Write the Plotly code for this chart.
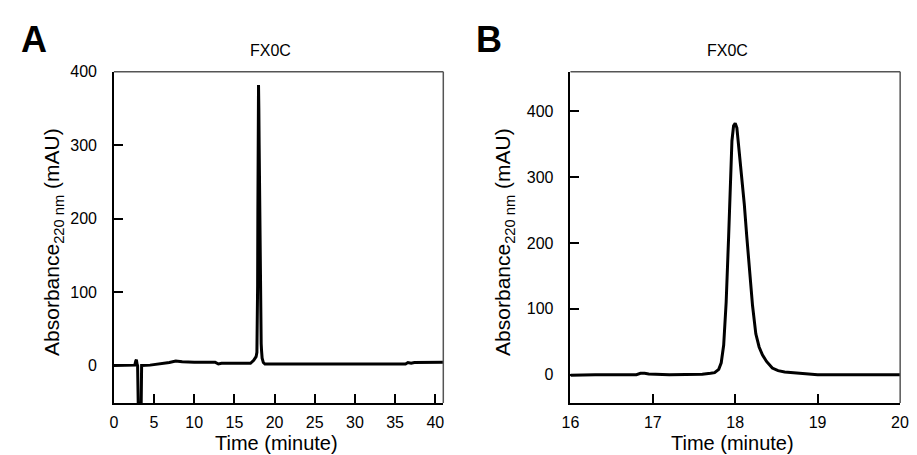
import plotly.graph_objects as go

# Panel A: full chromatogram
time_a = [0, 1, 2, 2.6, 2.72, 2.8, 2.88, 2.95, 3.25, 3.32, 3.45, 4.5, 5.7, 6.9, 7.7, 8.5, 10,
          12.6, 13.0, 13.4, 15, 17.0, 17.4, 17.6, 17.7, 17.8, 17.85, 17.89, 17.92, 17.94, 17.96,
          18.0, 18.04, 18.08, 18.11, 18.14, 18.17, 18.21, 18.25, 18.29, 18.33, 18.38, 18.45,
          18.6, 18.8, 20, 25, 30, 36.3, 36.6, 37.0, 37.4, 39, 41]
abs_a = [0, 0, 0, 0.5, 6, 8, 2, 0, -200, -200, 0, 0.5, 2, 4, 6, 5, 4.5,
         4.5, 2, 3, 3, 3, 7, 10, 12, 18, 45, 110, 210, 300, 355,
         382, 350, 300, 259, 210, 160, 105, 62, 42, 30, 20, 10,
         4, 2, 2, 2, 2, 2, 4, 3, 4, 4, 4.5]

# Panel B: zoom on the main peak
time_b = [16.0, 16.3, 16.8, 16.85, 16.9, 16.95, 17.2, 17.6, 17.7, 17.75, 17.8, 17.83, 17.86,
          17.89, 17.92, 17.94, 17.96, 17.98, 18.0, 18.02, 18.04, 18.08, 18.11, 18.14, 18.17,
          18.21, 18.25, 18.29, 18.33, 18.38, 18.45, 18.52, 18.6, 18.8, 18.85, 19.0, 19.5, 20.0]
abs_b = [-1, 0, 0, 2, 2, 1, 0, 0.5, 2, 3, 8, 18, 45,
         110, 210, 300, 355, 378, 382, 375, 350, 300, 259, 210, 160,
         105, 62, 42, 30, 20, 10, 6, 4, 2, 0.5, 0, 0, 0]

xticks_a = [0, 5, 10, 15, 20, 25, 30, 35, 40]
yticks_a = [0, 100, 200, 300, 400]
xticks_b = [16, 17, 18, 19, 20]
yticks_b = [0, 100, 200, 300, 400]

FONT = "Liberation Sans, Arial, sans-serif"

fig = go.Figure()
fig.add_trace(go.Scatter(x=time_a, y=abs_a, mode="lines", line=dict(color="black", width=3),
                         xaxis="x", yaxis="y", showlegend=False))
fig.add_trace(go.Scatter(x=time_b, y=abs_b, mode="lines", line=dict(color="black", width=3),
                         xaxis="x2", yaxis="y2", showlegend=False))

ax_common = dict(showgrid=False, zeroline=False, showline=True, linecolor="black", linewidth=1.5,
                 ticks="inside", ticklen=9, tickwidth=1.5, tickcolor="black",
                 tickfont=dict(family=FONT, size=16, color="black"), mirror=False,
                 ticklabeloverflow="allow")

y_dom = [1 - 402 / 455, 1 - 65 / 455]
fig.update_layout(
    width=917, height=455, margin=dict(l=0, r=0, t=0, b=0),
    paper_bgcolor="white", plot_bgcolor="white",
    xaxis=dict(domain=[107 / 917, 443 / 917], range=[0, 41], tickvals=xticks_a,
               anchor="y", ticklabelstandoff=4, **ax_common),
    yaxis=dict(domain=y_dom, range=[-51, 400.01], tickvals=yticks_a, anchor="x",
               ticklabelstandoff=12, **ax_common),
    xaxis2=dict(domain=[572.7 / 917, 909 / 917], range=[16, 20.002], tickvals=xticks_b,
                anchor="y2", ticklabelstandoff=4, **ax_common),
    yaxis2=dict(domain=y_dom, range=[-43, 460], tickvals=yticks_b, anchor="x2",
                ticklabelstandoff=12, **ax_common),
)

# top/right frame lines (gray)
for xr, yr in (("x domain", "y domain"), ("x2 domain", "y2 domain")):
    fig.add_shape(type="line", xref=xr, yref=yr, x0=0, x1=1, y0=1, y1=1,
                  line=dict(color="#555555", width=1.5))
    fig.add_shape(type="line", xref=xr, yref=yr, x0=1, x1=1, y0=0, y1=1,
                  line=dict(color="#555555", width=1.5))

ann = []
for cx, ycx, xtc in ((267, 45, 273), (733, 505, 738)):
    ann.append(dict(text="FX0C", x=cx / 917, y=1 - 43 / 455, xref="paper", yref="paper",
                    showarrow=False, font=dict(family=FONT, size=16, color="black"),
                    xanchor="center", yanchor="middle"))
    ann.append(dict(text="Absorbance<sub>220 nm</sub> (mAU)", x=ycx / 917, y=1 - 238 / 455,
                    xref="paper", yref="paper", showarrow=False, textangle=-90,
                    font=dict(family=FONT, size=21, color="black"),
                    xanchor="center", yanchor="middle"))
    ann.append(dict(text="Time (minute)", x=xtc / 917, y=1 - 443 / 455, xref="paper",
                    yref="paper", showarrow=False, font=dict(family=FONT, size=20, color="black"),
                    xanchor="center", yanchor="middle"))
ann.append(dict(text="<b>A</b>", x=25 / 917, y=1 - 32 / 455, xref="paper", yref="paper",
                showarrow=False, font=dict(family=FONT, size=36, color="black"),
                xanchor="center", yanchor="middle"))
ann.append(dict(text="<b>B</b>", x=490 / 917, y=1 - 32 / 455, xref="paper", yref="paper",
                showarrow=False, font=dict(family=FONT, size=36, color="black"),
                xanchor="center", yanchor="middle"))
fig.update_layout(annotations=ann)

fig.write_html("out.html")
